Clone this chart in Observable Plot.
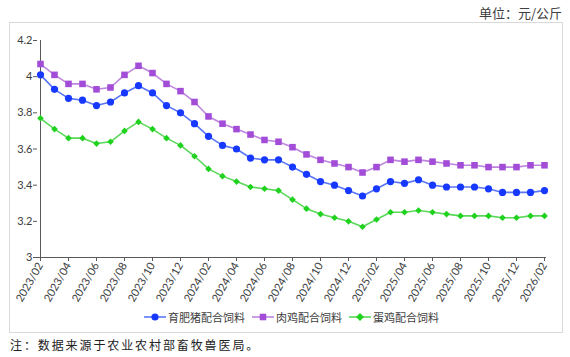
<!DOCTYPE html>
<html>
<head>
<meta charset="utf-8">
<script src="https://cdn.jsdelivr.net/npm/d3@7"></script>
<script src="https://cdn.jsdelivr.net/npm/@observablehq/plot@0.6"></script>
<style>
  html, body { margin: 0; padding: 0; background: #fff; }
  #wrap { position: relative; width: 570px; height: 357px; overflow: hidden; font-family: "Noto Sans CJK SC", "Noto Sans", sans-serif; }
  #frame { position: absolute; left: 9px; top: 22px; width: 552px; height: 309px; border: 1px solid #d9d9d9; box-sizing: content-box; }
  #chart { position: absolute; left: 0; top: 0; }
  #unit { position: absolute; right: 8px; top: 4px; font-size: 13px; color: #404040; line-height: 18px; }
  #legend { position: absolute; left: 144px; top: 309px; display: flex; align-items: center; font-size: 11px; color: #404040; line-height: 16px; }
  #legend .item { display: flex; align-items: center; margin-right: 7px; }
  #legend svg { margin-right: 2px; }
  #note { position: absolute; left: 10px; top: 337px; font-size: 12px; letter-spacing: 1.9px; color: #222; line-height: 16px; }
</style>
</head>
<body>
<div id="wrap">
  <div id="frame"></div>
  <div id="chart"></div>
  <div id="unit">单位：元/公斤</div>
  <div id="legend"></div>
  <div id="note">注：数据来源于农业农村部畜牧兽医局。</div>
</div>
<script>
const months = [
  "2023/02","2023/03","2023/04","2023/05","2023/06","2023/07","2023/08","2023/09","2023/10","2023/11","2023/12",
  "2024/01","2024/02","2024/03","2024/04","2024/05","2024/06","2024/07","2024/08","2024/09","2024/10","2024/11","2024/12",
  "2025/01","2025/02","2025/03","2025/04","2025/05","2025/06","2025/07","2025/08","2025/09","2025/10","2025/11","2025/12",
  "2026/01","2026/02"
];
const seriesNames = ["育肥猪配合饲料", "肉鸡配合饲料", "蛋鸡配合饲料"];
const pigFeed = [
  4.01,3.93,3.88,3.87,3.84,3.86,3.91,3.95,3.91,3.84,3.80,
  3.74,3.67,3.62,3.60,3.55,3.54,3.54,3.50,3.46,3.42,3.40,3.37,
  3.34,3.38,3.42,3.41,3.43,3.40,3.39,3.39,3.39,3.38,3.36,3.36,
  3.36,3.37
];
const broilerFeed = [
  4.07,4.01,3.96,3.96,3.93,3.94,4.01,4.06,4.02,3.96,3.92,
  3.86,3.78,3.74,3.71,3.68,3.65,3.64,3.61,3.57,3.54,3.52,3.50,
  3.47,3.50,3.54,3.53,3.54,3.53,3.52,3.51,3.51,3.50,3.50,3.50,
  3.51,3.51
];
const layerFeed = [
  3.77,3.71,3.66,3.66,3.63,3.64,3.70,3.75,3.71,3.66,3.62,
  3.56,3.49,3.45,3.42,3.39,3.38,3.37,3.32,3.27,3.24,3.22,3.20,
  3.17,3.21,3.25,3.25,3.26,3.25,3.24,3.23,3.23,3.23,3.22,3.22,
  3.23,3.23
];
const yTicks = [3, 3.2, 3.4, 3.6, 3.8, 4, 4.2];

const seriesValues = [pigFeed, broilerFeed, layerFeed];
const lineColors = ["#5a76f5", "#bd84e0", "#5ad85a"];
const markColors = ["#1738ff", "#a24cd8", "#1ed21e"];
const symbols = ["circle", "square", "diamond2"];
const radii = [3.6, 3.7, 3.0];

const rows = [];
seriesNames.forEach((s, k) => {
  seriesValues[k].forEach((v, i) => rows.push({series: s, month: months[i], value: v}));
});

const marks = [
  Plot.ruleY([3], {stroke: "#595959", strokeWidth: 1}),
  Plot.ruleX([months[0]], {stroke: "#595959", strokeWidth: 1}),
  Plot.axisY({ticks: yTicks, tickFormat: d => String(+d.toFixed(1)), tickSize: 4, tickPadding: 1, fontSize: 11, fill: "#404040", stroke: "#595959", label: null}),
  Plot.axisX({ticks: months.filter((d, i) => i % 2 === 0), tickRotate: -60, tickSize: 4, tickPadding: 2, fontSize: 11, fill: "#404040", stroke: "#595959", label: null})
];
seriesNames.forEach((s, k) => {
  const d = rows.filter(r => r.series === s);
  marks.push(Plot.line(d, {x: "month", y: "value", stroke: lineColors[k], strokeWidth: 1.6}));
  marks.push(Plot.dot(d, {x: "month", y: "value", symbol: () => symbols[k], fill: markColors[k], stroke: "none", r: radii[k]}));
});

const chart = Plot.plot({
  width: 570,
  height: 357,
  marginLeft: 37,
  marginRight: 24,
  marginTop: 40,
  marginBottom: 100,
  style: {background: "transparent", fontFamily: "Lato, 'Noto Sans', sans-serif", color: "#404040"},
  x: {type: "point", domain: months, padding: 0, label: null},
  y: {domain: [3, 4.2], label: null},
  symbol: {type: "identity"},
  marks
});
document.getElementById("chart").appendChild(chart);

const legend = document.getElementById("legend");
seriesNames.forEach((s, k) => {
  const item = document.createElement("div");
  item.className = "item";
  const sym = d3.symbol(k === 0 ? d3.symbolCircle : k === 1 ? d3.symbolSquare : d3.symbolDiamond2, Math.PI * radii[k] * radii[k] * (k === 2 ? 1.4 : 1))();
  item.innerHTML = `<svg width="22" height="12"><line x1="0" x2="22" y1="6" y2="6" stroke="${lineColors[k]}" stroke-width="1.6"/><path transform="translate(11,6)" d="${sym}" fill="${markColors[k]}"/></svg><span>${s}</span>`;
  legend.appendChild(item);
});
</script>
</body>
</html>
